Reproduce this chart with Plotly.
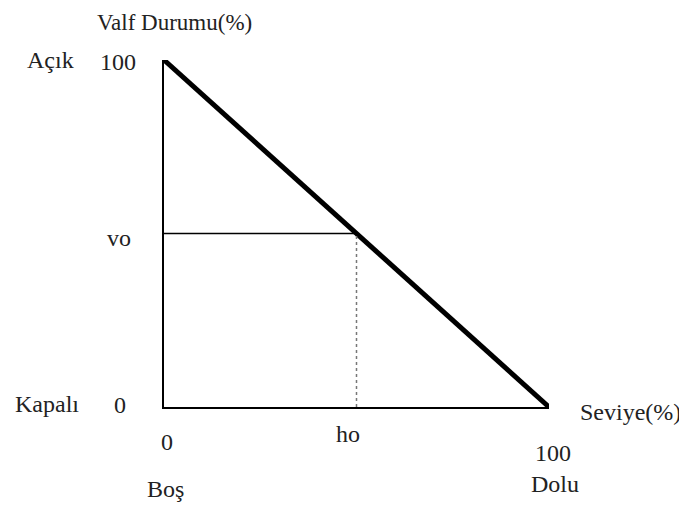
import plotly.graph_objects as go

# Data
level = [0, 100]          # Seviye (%)
valve = [100, 0]          # Valf Durumu (%)
ho = 50
vo = 50

x_ticks = ["0", "ho", "100"]
y_ticks = ["0", "vo", "100"]

OFF = 8  # page body margin
W, H = 687 - OFF, 507 - OFF
L, R, T, B = 164 - OFF, 549 - OFF, 60 - OFF, 407 - OFF

def px(xp, yp):
    xp -= OFF
    yp -= OFF
    return (xp - L) / (R - L), (B - yp) / (B - T)

FONT = "Liberation Serif"
TXT = "#222222"

fig = go.Figure()
fig.add_trace(go.Scatter(x=level, y=valve, mode="lines",
                         line=dict(color="black", width=5), cliponaxis=False,
                         hoverinfo="skip"))
fig.add_trace(go.Scatter(x=[0, ho], y=[vo, vo], mode="lines",
                         line=dict(color="black", width=1.5), cliponaxis=False,
                         hoverinfo="skip"))
fig.add_trace(go.Scatter(x=[ho, ho], y=[0, vo], mode="lines",
                         line=dict(color="#777777", width=1.5, dash="dot"),
                         cliponaxis=False, hoverinfo="skip"))

labels = [
    ("Valf Durumu(%)", 174, 22, 23),
    ("Açık", 50, 60, 24),
    (y_ticks[2], 118, 62, 24),
    (y_ticks[1], 119, 238, 24),
    (y_ticks[0], 120, 405, 24),
    ("Kapalı", 47, 404, 24),
    (x_ticks[0], 167, 442, 24),
    ("Boş", 165, 489, 24),
    (x_ticks[1], 348, 434, 24),
    (x_ticks[2], 553, 453, 24),
    ("Dolu", 555, 484, 24),
    ("Seviye(%)", 630, 412, 24),
]
for text, xp, yp, fs in labels:
    ax, ay = px(xp, yp)
    fig.add_annotation(text=text, x=ax, y=ay, xref="paper", yref="paper",
                       xanchor="center", yanchor="middle", showarrow=False,
                       font=dict(family=FONT, size=fs, color=TXT))

fig.update_xaxes(range=[0, 100], showline=True, linecolor="black", linewidth=2,
                 showgrid=False, zeroline=False, showticklabels=False, ticks="")
fig.update_yaxes(range=[0, 100], showline=True, linecolor="black", linewidth=2,
                 showgrid=False, zeroline=False, showticklabels=False, ticks="")
fig.update_layout(width=W, height=H, showlegend=False,
                  margin=dict(l=L, r=W - R, t=T, b=H - B),
                  plot_bgcolor="white", paper_bgcolor="white")

fig.write_html("out.html")
